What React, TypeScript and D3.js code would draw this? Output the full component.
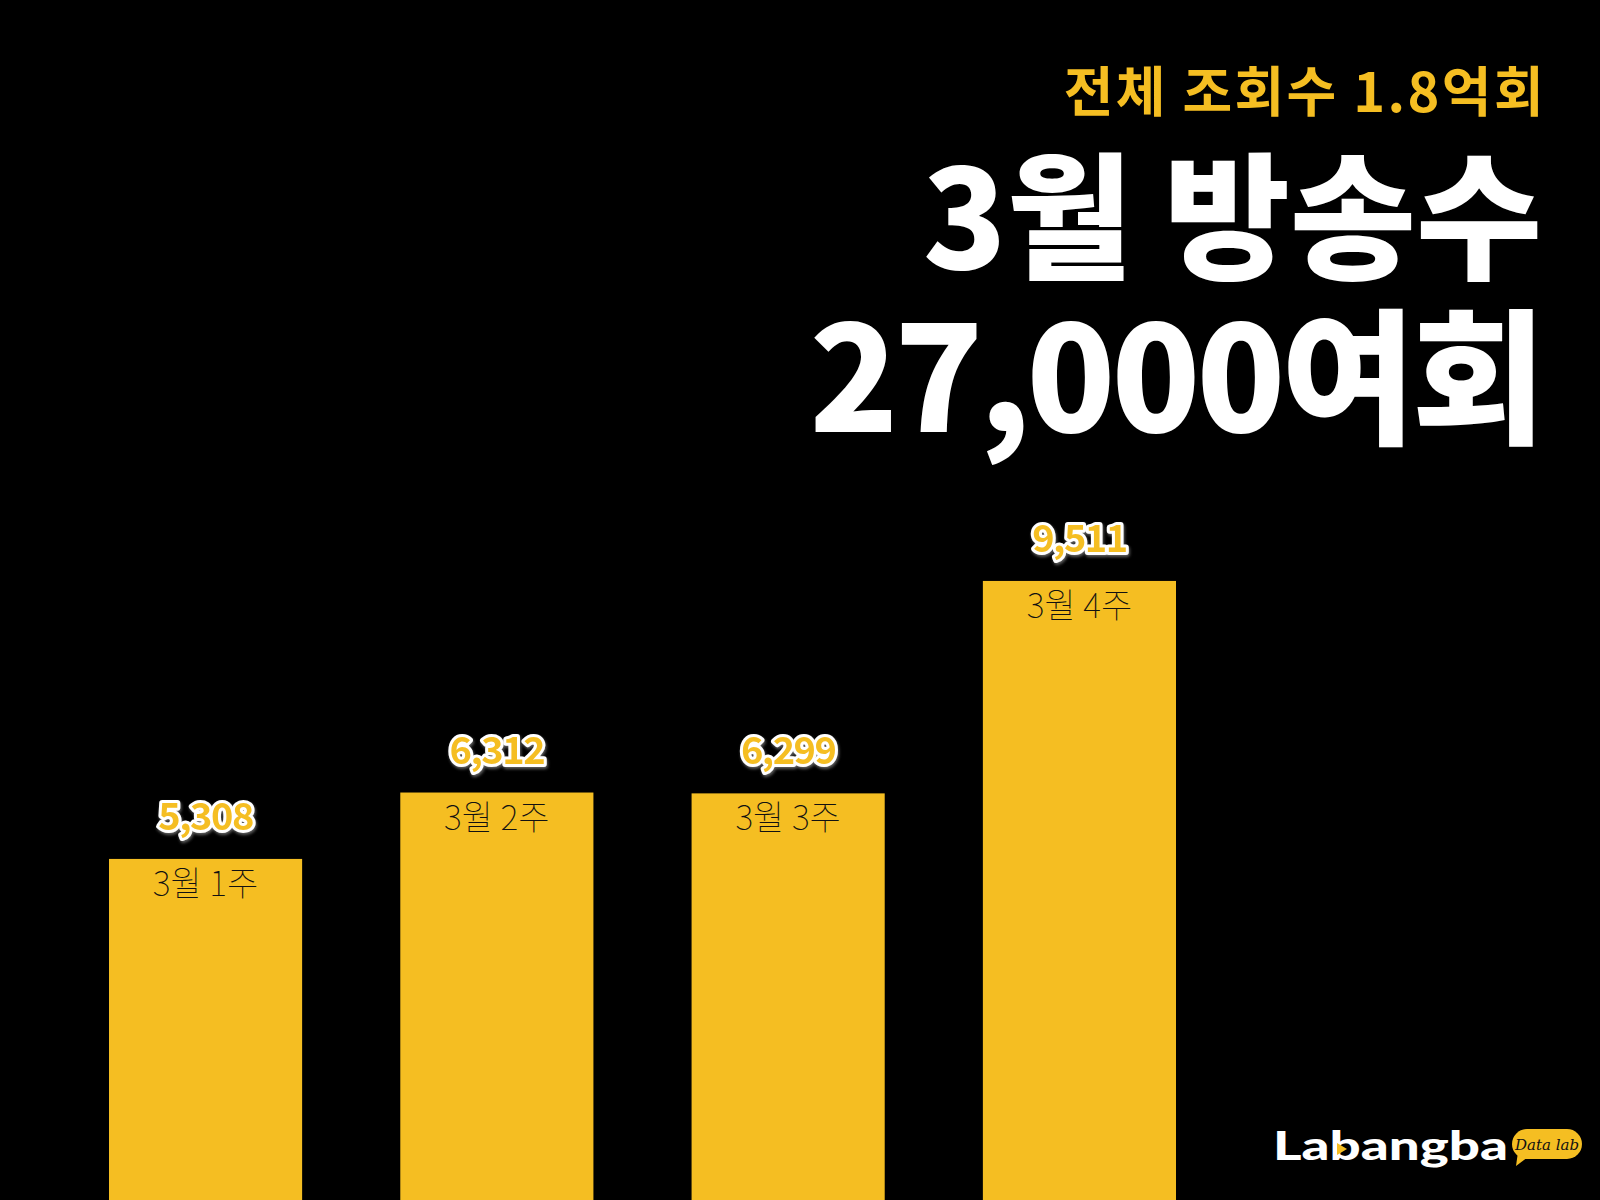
import { useEffect, useRef } from 'react';
import * as d3 from 'd3';

// weekly broadcast counts, March
const weeks = ['3월 1주', '3월 2주', '3월 3주', '3월 4주'];
const counts = [5308, 6312, 6299, 9511];

const subtitle = '전체 조회수 1.8억회';
const headline1 = '3월 방송수';
const headline2 = '27,000여회';

const YELLOW = '#F5BE22';
const KR = '"Noto Sans CJK KR", "Noto Sans", sans-serif';

export default function App() {
  const svgRef = useRef<SVGSVGElement>(null);

  useEffect(() => {
    if (!svgRef.current) return;
    const svg = d3.select(svgRef.current);
    svg.selectAll('*').remove();

    const W = 1600, H = 1200;
    svg.append('rect').attr('width', W).attr('height', H).attr('fill', '#000');

    const defs = svg.append('defs');
    const shadow = defs.append('filter').attr('id', 'lblShadow').attr('x', '-20%').attr('y', '-20%').attr('width', '140%').attr('height', '160%');
    shadow.append('feDropShadow').attr('dx', 1).attr('dy', 2).attr('stdDeviation', 1.5).attr('flood-color', '#777').attr('flood-opacity', 0.8);

    const x = d3.scaleBand<string>().domain(weeks).range([109, 1176]).paddingInner(0.337).paddingOuter(0);
    const y = d3.scaleLinear().domain([0, 10000]).range([1210, 548.6]);

    // bars
    svg.append('g').selectAll('rect').data(counts).enter().append('rect')
      .attr('x', (_, i) => x(weeks[i])!)
      .attr('y', d => y(d))
      .attr('width', x.bandwidth())
      .attr('height', d => y(0) - y(d))
      .attr('fill', YELLOW);

    // category labels inside the bars
    svg.append('g').selectAll('text').data(counts).enter().append('text')
      .attr('x', (_, i) => x(weeks[i])! + x.bandwidth() / 2)
      .attr('y', d => y(d) + 37)
      .attr('text-anchor', 'middle')
      .attr('font-family', KR).attr('font-weight', 100).attr('font-size', 34)
      .attr('fill', '#111')
      .text((_, i) => weeks[i]);

    // value labels above bars
    svg.append('g').selectAll('text').data(counts).enter().append('text')
      .attr('x', (_, i) => x(weeks[i])! + x.bandwidth() / 2)
      .attr('y', d => y(d) - 29)
      .attr('text-anchor', 'middle')
      .attr('font-family', KR).attr('font-weight', 700).attr('font-size', 38)
      .attr('letter-spacing', -1.5)
      .attr('fill', YELLOW)
      .attr('stroke', '#fff').attr('stroke-width', 6).attr('stroke-linejoin', 'round')
      .attr('paint-order', 'stroke')
      .attr('filter', 'url(#lblShadow)')
      .text(d => d3.format(',')(d));

    // headline block, right aligned
    svg.append('text').attr('x', 1546).attr('y', 112)
      .attr('text-anchor', 'end').attr('font-family', KR).attr('font-weight', 700)
      .attr('font-size', 54).attr('letter-spacing', 2.4).attr('fill', YELLOW).text(subtitle);
    svg.append('text').attr('x', 1542).attr('y', 269)
      .attr('text-anchor', 'end').attr('font-family', KR).attr('font-weight', 900)
      .attr('font-size', 137).attr('fill', '#fff').text(headline1);
    svg.append('text').attr('x', 1542).attr('y', 432)
      .attr('text-anchor', 'end').attr('font-family', KR).attr('font-weight', 900)
      .attr('font-size', 146).attr('letter-spacing', -4).attr('fill', '#fff').text(headline2);

    // logo
    const logo = svg.append('g');
    logo.append('text').attr('x', 1273).attr('y', 1160)
      .attr('font-family', 'Lato, "Noto Sans", sans-serif').attr('font-weight', 900)
      .attr('font-size', 40).attr('fill', '#fff')
      .attr('textLength', 235).attr('lengthAdjust', 'spacingAndGlyphs')
      .text('Labangba');
    logo.append('path')
      .attr('d', 'M1337,1143 L1347,1149 L1337,1155 Z')
      .attr('fill', YELLOW);
    logo.append('rect').attr('x', 1512).attr('y', 1129).attr('width', 70).attr('height', 30)
      .attr('rx', 15).attr('fill', YELLOW);
    logo.append('path').attr('d', 'M1518,1152 L1516,1166 L1528,1157 Z').attr('fill', YELLOW);
    logo.append('text').attr('x', 1547).attr('y', 1150)
      .attr('text-anchor', 'middle').attr('font-family', '"DejaVu Serif", serif')
      .attr('font-style', 'italic').attr('font-size', 15).attr('fill', '#111')
      .text('Data lab');
  }, []);

  return (
    <svg ref={svgRef} width={1600} height={1200} viewBox="0 0 1600 1200"
      style={{ position: 'absolute', left: 0, top: 0, display: 'block' }} />
  );
}
